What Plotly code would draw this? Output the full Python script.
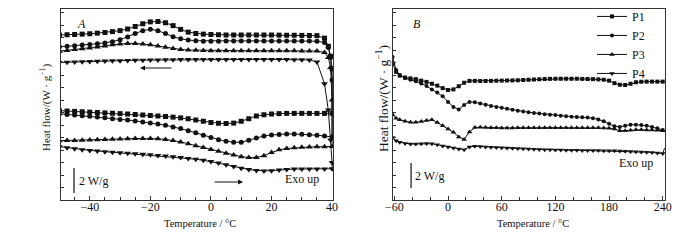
import plotly.graph_objects as go

# ---------------- Panel A (cooling/heating, -50..40 °C) ----------------
xa_heat = [-50, -47.5, -45, -42.5, -40, -37.5, -35, -32.5, -30, -27.5, -25, -22.5, -20, -17.5, -15,
           -12.5, -10, -7.5, -5, -2.5, 0, 2.5, 5, 7.5, 10, 12.5, 15, 17.5, 20, 22.5, 25, 27.5, 30,
           32.5, 35, 37.5, 40]
a_p1_heat = [7.15, 7.12, 7.09, 7.06, 7.03, 7.0, 6.97, 6.94, 6.91, 6.88, 6.84, 6.8, 6.76, 6.72, 6.68,
             6.63, 6.57, 6.5, 6.4, 6.3, 6.2, 6.14, 6.12, 6.15, 6.3, 6.5, 6.72, 6.82, 6.88, 6.91, 6.93,
             6.93, 6.93, 6.93, 6.93, 6.93, 6.93]
a_p2_heat = [6.9, 6.85, 6.8, 6.75, 6.7, 6.64, 6.58, 6.5, 6.45, 6.4, 6.33, 6.25, 6.17, 6.08, 5.98,
             5.85, 5.72, 5.55, 5.38, 5.18, 5.0, 4.83, 4.7, 4.63, 4.62, 4.78, 4.97, 5.12, 5.2, 5.25, 5.28,
             5.28, 5.26, 5.23, 5.18, 5.12, 5.05]
a_p3_heat = [4.75, 4.76, 4.77, 4.79, 4.8, 4.82, 4.84, 4.86, 4.88, 4.9, 4.92, 4.93, 4.93, 4.9, 4.85,
             4.77, 4.65, 4.5, 4.35, 4.2, 4.05, 3.9, 3.75, 3.6, 3.47, 3.4, 3.4, 3.55, 3.8, 4.02, 4.12,
             4.18, 4.22, 4.24, 4.26, 4.27, 4.28]
a_p4_heat = [4.27, 4.18, 4.1, 4.03, 3.97, 3.92, 3.87, 3.82, 3.78, 3.74, 3.7, 3.66, 3.62, 3.57, 3.52,
             3.46, 3.4, 3.33, 3.26, 3.18, 3.08, 2.96, 2.82, 2.68, 2.55, 2.44, 2.36, 2.32, 2.34, 2.4, 2.45,
             2.48, 2.48, 2.48, 2.48, 2.48, 2.5]

xa_cool = [-50, -47.5, -45, -42.5, -40, -37.5, -35, -32.5, -30, -27.5, -25, -22.5, -20, -17.5, -15,
           -12.5, -10, -7.5, -5, -2.5, 0, 2.5, 5, 7.5, 10, 12.5, 15, 17.5, 20, 22.5, 25, 27.5, 30,
           32.5, 35, 37.5, 38.75, 39.5, 40]
a_p1_cool = [13.2, 13.22, 13.24, 13.27, 13.3, 13.35, 13.4, 13.47, 13.55, 13.68, 13.88, 14.1, 14.25, 14.28, 14.18,
             13.95, 13.65, 13.43, 13.32, 13.27, 13.24, 13.22, 13.2, 13.2, 13.2, 13.2, 13.2, 13.2, 13.2, 13.19, 13.18,
             13.18, 13.17, 13.16, 13.15, 12.95, 12.3, 11.5, 10.5]
a_p2_cool = [12.25, 12.3, 12.35, 12.4, 12.45, 12.5, 12.57, 12.67, 12.82, 13.05, 13.32, 13.55, 13.66, 13.55, 13.32,
             13.07, 12.9, 12.8, 12.74, 12.71, 12.71, 12.71, 12.72, 12.72, 12.72, 12.72, 12.72, 12.72, 12.72, 12.72, 12.72,
             12.72, 12.72, 12.72, 12.7, 12.6, 12.2, 11.4, 9.6]
a_p3_cool = [11.9, 11.97, 12.04, 12.11, 12.17, 12.25, 12.33, 12.42, 12.49, 12.53, 12.53, 12.49, 12.42, 12.32, 12.22,
             12.12, 12.05, 12.0, 11.98, 11.96, 11.95, 11.95, 11.95, 11.95, 11.95, 11.95, 11.95, 11.95, 11.95, 11.94, 11.94,
             11.94, 11.93, 11.93, 11.92, 11.8, 11.4, 10.6, 8.0]
a_p4_cool = [11.0, 11.02, 11.04, 11.06, 11.08, 11.1, 11.12, 11.14, 11.15, 11.17, 11.18, 11.19, 11.2, 11.21, 11.22,
             11.23, 11.24, 11.25, 11.25, 11.25, 11.25, 11.25, 11.25, 11.25, 11.25, 11.25, 11.25, 11.25, 11.25, 11.25, 11.24,
             11.23, 11.22, 11.2, 11.05, 9.3, 7.2, 4.8, 3.0]

# ---------------- Panel B (heating, -62..242 °C) ----------------
xb = [-62, -58, -54, -48, -42, -36, -30, -24, -18, -12, -6, 0, 6, 12, 18, 24, 30, 36, 42, 48, 54, 60,
      66, 72, 78, 84, 90, 96, 102, 108, 114, 120, 126, 132, 138, 144, 150, 156, 162, 168, 174, 180,
      186, 192, 198, 204, 210, 216, 222, 228, 234, 240]
b_p1 = [10.95, 10.25, 9.95, 9.8, 9.73, 9.67, 9.55, 9.45, 9.3, 9.15, 8.95, 8.8, 8.85, 9.1, 9.38, 9.53, 9.53, 9.52,
        9.52, 9.53, 9.54, 9.55, 9.56, 9.57, 9.58, 9.6, 9.62, 9.64, 9.66, 9.68, 9.69, 9.7, 9.7, 9.7, 9.7, 9.7,
        9.69, 9.68, 9.67, 9.65, 9.62, 9.55, 9.35, 9.22, 9.2, 9.3, 9.42, 9.46, 9.47, 9.47, 9.47, 9.47]
b_p2 = [11.45, 10.4, 10.0, 9.75, 9.62, 9.5, 9.33, 9.12, 8.85, 8.6, 8.3, 7.85, 7.45, 7.25, 7.6, 7.85, 7.82, 7.72,
        7.62, 7.52, 7.45, 7.38, 7.3, 7.22, 7.15, 7.08, 7.02, 6.97, 6.92, 6.87, 6.83, 6.8, 6.75, 6.7, 6.67, 6.64,
        6.62, 6.6, 6.55, 6.45, 6.3, 6.1, 5.9, 5.85, 5.95, 6.02, 6.02, 6.0, 5.95, 5.85, 5.75, 5.6]
b_p3 = [6.85, 6.55, 6.42, 6.3, 6.22, 6.22, 6.28, 6.36, 6.42, 6.2, 5.95, 5.68, 5.42, 5.05, 4.85, 5.45, 5.8, 5.82,
        5.8, 5.78, 5.78, 5.77, 5.77, 5.77, 5.78, 5.78, 5.78, 5.78, 5.79, 5.79, 5.79, 5.79, 5.79, 5.79, 5.79, 5.79,
        5.79, 5.79, 5.78, 5.78, 5.77, 5.75, 5.68, 5.55, 5.55, 5.58, 5.62, 5.62, 5.6, 5.6, 5.58, 5.55]
b_p4 = [5.0, 4.75, 4.62, 4.52, 4.48, 4.48, 4.5, 4.52, 4.5, 4.42, 4.33, 4.25, 4.17, 4.08, 4.02, 4.25, 4.3, 4.28,
        4.25, 4.22, 4.2, 4.18, 4.16, 4.14, 4.12, 4.1, 4.08, 4.06, 4.04, 4.03, 4.02, 4.0, 4.0, 3.99, 3.98, 3.98,
        3.97, 3.97, 3.96, 3.96, 3.95, 3.95, 3.94, 3.92, 3.9, 3.88, 3.86, 3.84, 3.82, 3.8, 3.76, 3.72]
b_p4_end_x = [240, 242]
b_p4_end_y = [3.72, 4.15]

series_names = ["P1", "P2", "P3", "P4"]
symbols = ["square", "circle", "triangle-up", "triangle-down"]
msizes = [5, 5, 6, 6]

INK = "#111111"
FONT = "Liberation Serif"

fig = go.Figure()

heat_a = [a_p1_heat, a_p2_heat, a_p3_heat, a_p4_heat]
cool_a = [a_p1_cool, a_p2_cool, a_p3_cool, a_p4_cool]
for i in range(4):
    xs = list(xa_heat) + list(reversed(xa_cool))
    ys = list(heat_a[i]) + list(reversed(cool_a[i]))
    fig.add_trace(go.Scatter(x=xs, y=ys, mode="lines+markers", xaxis="x", yaxis="y",
                             line=dict(color=INK, width=1),
                             marker=dict(symbol=symbols[i], size=msizes[i], color=INK),
                             showlegend=False, name=series_names[i]))

b_series = [b_p1, b_p2, b_p3, b_p4]
for i in range(4):
    fig.add_trace(go.Scatter(x=xb, y=b_series[i], mode="lines+markers", xaxis="x2", yaxis="y2",
                             line=dict(color=INK, width=1),
                             marker=dict(symbol=symbols[i], size=msizes[i] - 1, color=INK),
                             showlegend=True, name=series_names[i]))
fig.add_trace(go.Scatter(x=b_p4_end_x, y=b_p4_end_y, mode="lines", xaxis="x2", yaxis="y2",
                         line=dict(color=INK, width=1), showlegend=False, hoverinfo="skip"))

axis_common = dict(showline=True, linecolor="#333333", linewidth=1, mirror=True, automargin=False,
                   ticks="inside", tickcolor="#333333", showgrid=False, zeroline=False,
                   tickfont=dict(family=FONT, size=12, color=INK))

fig.update_layout(
    width=700, height=240,
    margin=dict(l=0, r=0, t=9, b=40, autoexpand=False),
    paper_bgcolor="white", plot_bgcolor="white",
    font=dict(family=FONT, color=INK),
    xaxis=dict(axis_common, domain=[61/700, 333/700], range=[-49.5, 40.3],
               tick0=-40, dtick=20, ticklen=4, anchor="y", ticklabelstandoff=-4,
               minor=dict(dtick=5, ticks="inside", ticklen=3, tickcolor="#333333")),
    yaxis=dict(axis_common, domain=[0, 1], range=[0, 15.28], dtick=1, ticklen=3,
               showticklabels=False, anchor="x"),
    xaxis2=dict(axis_common, domain=[393/700, 665/700], range=[-61.5, 242.5],
                tick0=-60, dtick=60, ticklen=4, anchor="y2", ticklabelstandoff=-4,
                minor=dict(dtick=20, ticks="inside", ticklen=3, tickcolor="#333333")),
    yaxis2=dict(axis_common, domain=[0, 1], range=[0, 15.28], dtick=1, ticklen=3,
                showticklabels=False, anchor="x2"),
    legend=dict(x=650/700, xanchor="right", y=1.037, yanchor="top",
                font=dict(family=FONT, size=12, color=INK), bgcolor="rgba(0,0,0,0)",
                itemwidth=30, tracegroupgap=0),
)

ann_font = dict(family=FONT, size=12, color=INK)
annotations = [
    # axis titles
    dict(x=199.8/700, y=-23/191, xref="paper", yref="paper", text="Temperature / °C", showarrow=False,
         xanchor="center", yanchor="middle", font=dict(family=FONT, size=10.5, color=INK)),
    dict(x=532.5/700, y=-23/191, xref="paper", yref="paper", text="Temperature / °C", showarrow=False,
         xanchor="center", yanchor="middle", font=dict(family=FONT, size=10.5, color=INK)),
    dict(x=45/700, y=(200-107)/191, xref="paper", yref="paper", text="Heat flow/(W · g<sup>−1</sup>)",
         showarrow=False, textangle=-90, xanchor="center", yanchor="middle",
         font=dict(family=FONT, size=11, color=INK)),
    dict(x=382/700, y=(200-99)/191, xref="paper", yref="paper", text="Heat flow/(W · g<sup>−1</sup>)",
         showarrow=False, textangle=-90, xanchor="center", yanchor="middle",
         font=dict(family=FONT, size=13.5, color=INK)),
    # panel labels and notes
    dict(x=-42.6, y=14.08, xref="x", yref="y", text="<i>A</i>", showarrow=False, font=ann_font),
    dict(x=-34.6, y=14.08, xref="x2", yref="y2", text="<i>B</i>", showarrow=False, font=ann_font),
    dict(x=-44.2, y=1.55, xref="x", yref="y", text="2 W/g", showarrow=False, xanchor="left", font=ann_font),
    dict(x=-39.0, y=1.95, xref="x2", yref="y2", text="2 W/g", showarrow=False, xanchor="left", font=ann_font),
    dict(x=30, y=1.65, xref="x", yref="y", text="Exo up", showarrow=False, font=ann_font),
    dict(x=209.7, y=3.0, xref="x2", yref="y2", text="Exo up", showarrow=False, font=ann_font),
    # direction arrows
    dict(x=-23.4, y=10.56, ax=-12.5, ay=10.56, xref="x", yref="y", axref="x", ayref="y",
         text="", showarrow=True, arrowhead=2, arrowsize=1, arrowwidth=1, arrowcolor=INK),
    dict(x=10.6, y=1.44, ax=0.7, ay=1.44, xref="x", yref="y", axref="x", ayref="y",
         text="", showarrow=True, arrowhead=2, arrowsize=1, arrowwidth=1, arrowcolor=INK),
]
fig.update_layout(annotations=annotations)

fig.add_shape(type="line", xref="x", yref="y", x0=-45.2, x1=-45.2, y0=0.56, y1=2.56,
              line=dict(color=INK, width=1.2))
fig.add_shape(type="line", xref="x2", yref="y2", x0=-41.3, x1=-41.3, y0=0.96, y1=2.96,
              line=dict(color=INK, width=1.2))

fig.write_html("out.html", config={"displayModeBar": False},
               post_script="document.body.style.margin='0';")
